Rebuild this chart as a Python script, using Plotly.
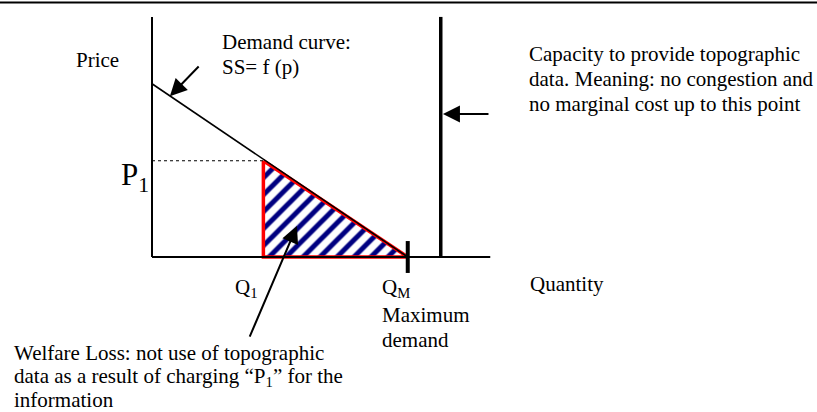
import plotly.graph_objects as go

# ---- data (economic units) ----
q_axis = [0, 12.3]          # quantity axis extent
p_axis = [0, 8.73]          # price axis extent
demand_q = [0, 9.3]         # demand curve end points (quantity)
demand_p = [6.3, 0]         # demand curve end points (price)
Q1 = 4.05
P1 = 3.5
QM = 9.3
capacity_q = 10.5
qm_tick_p = [0.58, -0.58]

tri_q = [Q1, Q1, QM, Q1]
tri_p = [P1, 0, 0, P1]

# arrows: (tip_q, tip_p, tail_q, tail_p)
arrow_demand = (0.65, 5.85, 1.75, 6.98)
arrow_capacity = (10.58, 5.2, 12.29, 5.2)
arrow_welfare = (5.27, 1.13, 3.53, -2.95)

FONT = "Liberation Serif"
FS = 21
k = 27.5  # px per unit
W, H = 817, 412
ox, oy = 152, 257

fig = go.Figure()

# hatched welfare-loss triangle
fig.add_trace(go.Scatter(
    x=tri_q, y=tri_p, mode="lines", fill="toself",
    fillcolor="white",
    fillpattern=dict(shape="/", fgcolor="#000080", bgcolor="white", fgopacity=1,
                     size=12, solidity=0.42),
    line=dict(color="#ff0000", width=3.5), hoverinfo="skip"))

# axes
fig.add_trace(go.Scatter(x=[0, 0], y=p_axis, mode="lines", line=dict(color="black", width=2), hoverinfo="skip"))
fig.add_trace(go.Scatter(x=q_axis, y=[0, 0], mode="lines", line=dict(color="black", width=2), hoverinfo="skip"))

# demand curve
fig.add_trace(go.Scatter(x=demand_q, y=demand_p, mode="lines", line=dict(color="black", width=1.6), hoverinfo="skip"))

# P1 dotted line
fig.add_trace(go.Scatter(x=[0, Q1], y=[P1, P1], mode="lines", line=dict(color="black", width=1.2, dash="dot"), hoverinfo="skip"))

# capacity line
fig.add_trace(go.Scatter(x=[capacity_q, capacity_q], y=p_axis, mode="lines", line=dict(color="black", width=3.5), hoverinfo="skip"))

# QM tick
fig.add_trace(go.Scatter(x=[QM, QM], y=qm_tick_p, mode="lines", line=dict(color="black", width=4), hoverinfo="skip"))

# arrows
for tq, tp, aq, ap in [arrow_demand, arrow_capacity, arrow_welfare]:
    fig.add_annotation(x=tq, y=tp, ax=aq, ay=ap, xref="x", yref="y", axref="x", ayref="y",
                       text="", showarrow=True, arrowhead=2, arrowsize=1.7, arrowwidth=2,
                       arrowcolor="black", standoff=0, startstandoff=0)

def label(q, p, text, anchor="left", size=FS):
    fig.add_annotation(x=q, y=p, xref="x", yref="y", text=text, showarrow=False,
                       xanchor=anchor, yanchor="middle",
                       font=dict(family=FONT, size=size, color="black"))

label(-2.0, 7.16, "Price", "center")
label(2.47, 7.82, "Demand curve:")
label(2.47, 6.91, "SS= f (p)")
label(-0.05, 2.9, "P<sub>1</sub>", "right", 31)
label(3.42, -1.13, "Q<sub>1</sub>", "center")
label(8.29, -1.13, "Q<sub>M</sub>")
label(8.29, -2.11, "Maximum")
label(8.29, -3.02, "demand")
label(13.67, -0.98, "Quantity")
label(13.64, 7.38, "Capacity to provide topographic")
label(13.64, 6.47, "data. Meaning: no congestion and")
label(13.64, 5.56, "no marginal cost up to this point")
label(-5.09, -3.50, "Welfare Loss: not use of topographic")
label(-5.09, -4.35, "data as a result of charging \u201cP<sub>1</sub>\u201d for the")
label(-5.09, -5.20, "information")

# top rule
fig.add_shape(type="line", xref="paper", yref="paper", x0=0, x1=1,
              y0=1 - 2.5 / H, y1=1 - 2.5 / H, line=dict(color="black", width=2))

fig.update_layout(
    width=W, height=H, margin=dict(l=0, r=0, t=0, b=0),
    paper_bgcolor="white", plot_bgcolor="white", showlegend=False,
    xaxis=dict(visible=False, range=[-ox / k, (W - ox) / k], fixedrange=True),
    yaxis=dict(visible=False, range=[-(H - oy) / k, oy / k], fixedrange=True),
)

fig.write_html("out.html", config={"displayModeBar": False},
               post_script="document.body.style.margin='0px';document.body.style.overflow='hidden';")
